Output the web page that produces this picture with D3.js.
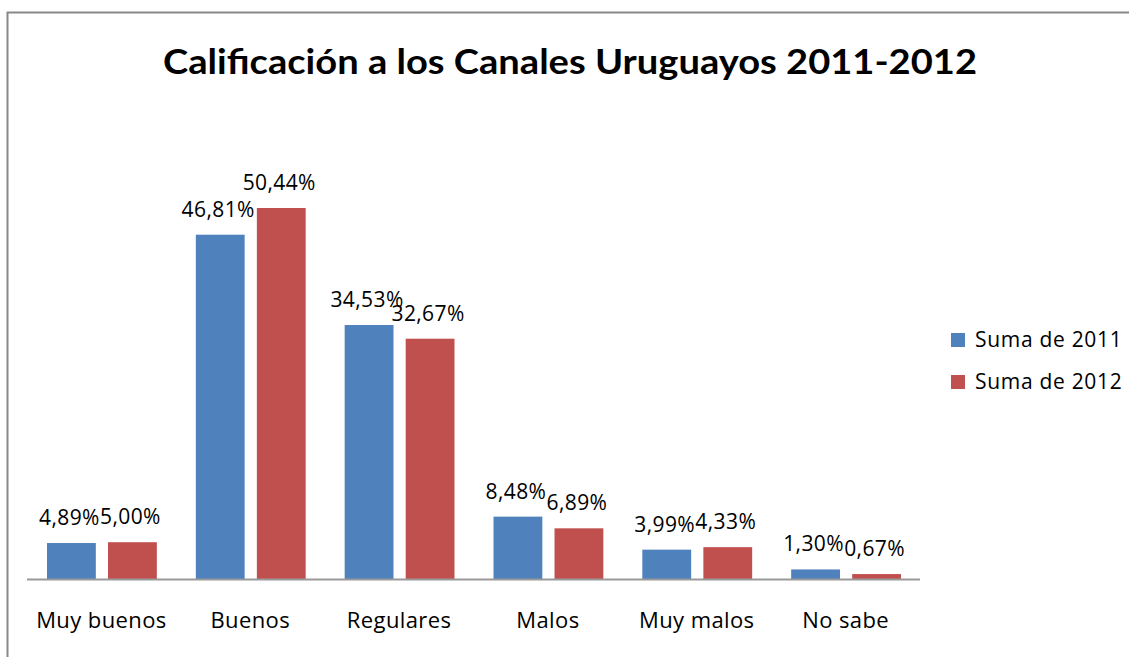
<!DOCTYPE html>
<html><head><meta charset="utf-8">
<script src="https://cdn.jsdelivr.net/npm/d3@7"></script>
<style>body{margin:0;background:#fff}svg{display:block}</style>
</head><body>
<script>
const categories = ["Muy buenos","Buenos","Regulares","Malos","Muy malos","No sabe"];
const seriesNames = ["Suma de 2011","Suma de 2012"];
const values2011 = [4.89,46.81,34.53,8.48,3.99,1.30];
const values2012 = [5.00,50.44,32.67,6.89,4.33,0.67];
const valueLabels2011 = ["4,89%","46,81%","34,53%","8,48%","3,99%","1,30%"];
const valueLabels2012 = ["5,00%","50,44%","32,67%","6,89%","4,33%","0,67%"];
const colors = ["#4F81BD","#C0504D"];

const W = 1129, H = 657;
const font = "'Open Sans', Lato, sans-serif";
const tfont = "Lato, 'Open Sans', sans-serif";
const svg = d3.select("body").append("svg").attr("width", W).attr("height", H);

// chart border
svg.append("path").attr("d", `M7.5,${H} L7.5,12.5 L${W},12.5`)
  .attr("fill","none").attr("stroke","#888").attr("stroke-width",2);

// title
svg.append("text").attr("x", 570).attr("y", 74).attr("text-anchor","middle")
  .attr("font-family", tfont).attr("font-weight","bold").attr("font-size",34)
  .attr("fill","#000").attr("textLength", 814).attr("lengthAdjust","spacingAndGlyphs")
  .text("Calificación a los Canales Uruguayos 2011-2012");

const x0 = d3.scaleBand().domain(categories).range([27, 920]).paddingInner(0).paddingOuter(0);
const x1 = d3.scaleBand().domain([0,1]).range([20, x0.bandwidth()-19]).paddingInner(0.2);
const y = d3.scaleLinear().domain([0, 50.44]).range([579, 208]);

const series = [values2011, values2012];
const labels = [valueLabels2011, valueLabels2012];

const g = svg.append("g");
categories.forEach((c, i) => {
  [0,1].forEach(s => {
    const v = series[s][i];
    const bx = x0(c) + x1(s);
    g.append("rect").attr("x", bx).attr("y", y(v)).attr("width", x1.bandwidth())
      .attr("height", y(0) - y(v)).attr("fill", colors[s]);
  });
});
categories.forEach((c, i) => {
  [0,1].forEach(s => {
    const v = series[s][i];
    const bx = x0(c) + x1(s) + x1.bandwidth()/2;
    g.append("text").attr("x", bx - 2).attr("y", y(v) - 18).attr("text-anchor","middle")
      .attr("font-family", font).attr("font-size", 21).attr("letter-spacing", 0.4).attr("fill","#000")
      .text(labels[s][i]);
  });
});

// x axis
const xAxis = d3.axisBottom(x0).tickSize(0).tickPadding(0);
const ax = svg.append("g").attr("transform", `translate(0,${y(0)})`).call(xAxis);
ax.select(".domain").attr("stroke","#999").attr("stroke-width",2).attr("d", `M27,0.5H920`);
ax.selectAll(".tick text").attr("font-family", font).attr("font-size", 22).attr("letter-spacing", 0.4)
  .attr("fill","#000").attr("dy", 0).attr("y", 49);

// legend
const leg = svg.append("g");
seriesNames.forEach((n, i) => {
  const ly = 333 + i*42;
  leg.append("rect").attr("x", 951).attr("y", ly).attr("width", 14).attr("height", 14).attr("fill", colors[i]);
  leg.append("text").attr("x", 975).attr("y", ly + 14).attr("font-family", font).attr("font-size", 21)
    .attr("letter-spacing", 0.7).attr("fill","#000").text(n);
});
</script>
</body></html>
